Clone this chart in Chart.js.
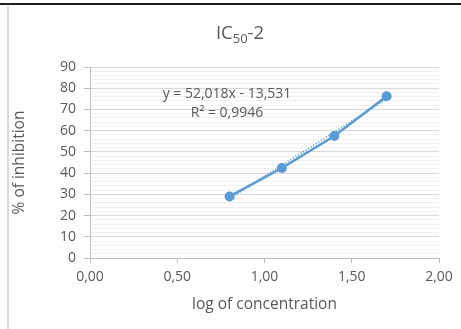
<!DOCTYPE html>
<html>
<head>
<meta charset="utf-8">
<script src="https://cdn.jsdelivr.net/npm/chart.js@4/dist/chart.umd.min.js"></script>
<style>
  html, body { margin: 0; padding: 0; background: #fff; }
  #wrap { position: relative; width: 461px; height: 329px; overflow: hidden; }
  #topRule { position: absolute; left: 0; top: 3px; width: 461px; height: 2px; background: #1e1e1e; }
  #leftRule { position: absolute; left: 7px; top: 6px; width: 2px; height: 323px; background: #d9d9d9; }
  canvas { position: absolute; left: 0; top: 0; }
</style>
</head>
<body>
<div id="wrap">
  <canvas id="chart" width="461" height="329"></canvas>
  <div id="topRule"></div>
  <div id="leftRule"></div>
</div>
<script>
// Log of concentration (x) and % of inhibition (y)
const logConc = [0.80, 1.10, 1.40, 1.70];
const inhibition = [29.0, 42.4, 57.5, 76.2];

// Linear trendline y = slope * x + intercept
const slope = 52.018;
const intercept = -13.531;
const rSquared = 0.9946;

// Axis tick settings
const xTicks = [0, 0.5, 1, 1.5, 2];
const yMajor = 10;
const yMinor = 2;

const textColor = '#595959';
const blue = '#5b9bd5';
const fontFamily = '"Open Sans", Lato, sans-serif';
const bottomPad = 15;

const fmt = (v, d) => v.toFixed(d).replace('.', ',');

const trendPoints = [logConc[0], logConc[logConc.length - 1]].map(x => ({ x, y: slope * x + intercept }));
const dataPoints = logConc.map((x, i) => ({ x, y: inhibition[i] }));

// Title with subscript and the trendline equation label
const annotations = {
  id: 'annotations',
  afterDraw(chart) {
    const ctx = chart.ctx;
    ctx.save();
    ctx.fillStyle = textColor;
    ctx.textBaseline = 'alphabetic';

    // Title "IC50-2"
    const big = '18.5px ' + fontFamily;
    const small = '13px ' + fontFamily;
    ctx.font = big; const w1 = ctx.measureText('IC').width;
    ctx.font = small; const w2 = ctx.measureText('50').width;
    ctx.font = big; const w3 = ctx.measureText('-2').width;
    const total = w1 + w2 + w3;
    let x = 240 - total / 2;
    const base = 39;
    ctx.textAlign = 'left';
    ctx.font = big; ctx.fillText('IC', x, base); x += w1;
    ctx.font = small; ctx.fillText('50', x, base + 4); x += w2;
    ctx.font = big; ctx.fillText('-2', x, base);

    // Equation and R²
    ctx.font = '14px ' + fontFamily;
    ctx.textAlign = 'center';
    const sign = intercept < 0 ? ' - ' : ' + ';
    ctx.fillText('y = ' + fmt(slope, 3) + 'x' + sign + fmt(Math.abs(intercept), 3), 227, 98);
    ctx.fillText('R² = ' + fmt(rSquared, 4), 227, 117);
    ctx.restore();
  }
};

new Chart(document.getElementById('chart'), {
  type: 'scatter',
  data: {
    datasets: [
      {
        label: 'trend',
        data: trendPoints,
        showLine: true,
        borderColor: blue,
        borderWidth: 2,
        borderDash: [1, 2],
        pointRadius: 0,
        order: 2
      },
      {
        label: '% of inhibition',
        data: dataPoints,
        showLine: true,
        borderColor: blue,
        backgroundColor: blue,
        borderWidth: 2.5,
        pointRadius: 5,
        pointBorderWidth: 0,
        order: 1
      }
    ]
  },
  plugins: [annotations],
  options: {
    responsive: false,
    animation: false,
    events: [],
    layout: { padding: { left: 0, right: 22, top: 67, bottom: bottomPad } },
    plugins: { legend: { display: false }, tooltip: { enabled: false }, title: { display: false } },
    scales: {
      x: {
        type: 'linear',
        min: 0, max: 2,
        afterBuildTicks(scale) { scale.ticks = xTicks.map(v => ({ value: v })); },
        afterFit(scale) { scale.height = 329 - bottomPad - 258; },
        border: { display: true, color: '#bfbfbf', width: 1 },
        grid: { display: true, drawOnChartArea: false, drawTicks: true, tickLength: 5, color: '#bfbfbf' },
        ticks: {
          color: textColor, padding: 6,
          font: { family: fontFamily, size: 14 },
          callback: v => fmt(v, 2)
        },
        title: {
          display: true, text: 'log of concentration', color: textColor,
          font: { family: fontFamily, size: 15.5 }, padding: 0
        }
      },
      y: {
        min: 0, max: 90,
        afterBuildTicks(scale) {
          const t = [];
          for (let v = 0; v <= 90; v += yMinor) t.push({ value: v });
          scale.ticks = t;
        },
        afterFit(scale) { scale.width = 90; },
        border: { display: true, color: '#bfbfbf', width: 1 },
        grid: {
          drawTicks: true, tickLength: 6,
          color: c => (c.tick && c.tick.value % yMajor === 0) ? '#d9d9d9' : '#f0f0f0',
          tickColor: c => (c.tick && c.tick.value % yMajor === 0) ? '#bfbfbf' : 'rgba(0,0,0,0)'
        },
        ticks: {
          color: textColor, padding: 8, autoSkip: false,
          font: { family: fontFamily, size: 14 },
          callback: v => (v % yMajor === 0 ? String(v) : '')
        },
        title: {
          display: true, text: '% of inhibition', color: textColor,
          font: { family: fontFamily, size: 15.5 }, padding: { top: 10, bottom: 0 }
        }
      }
    }
  }
});
</script>
</body>
</html>
